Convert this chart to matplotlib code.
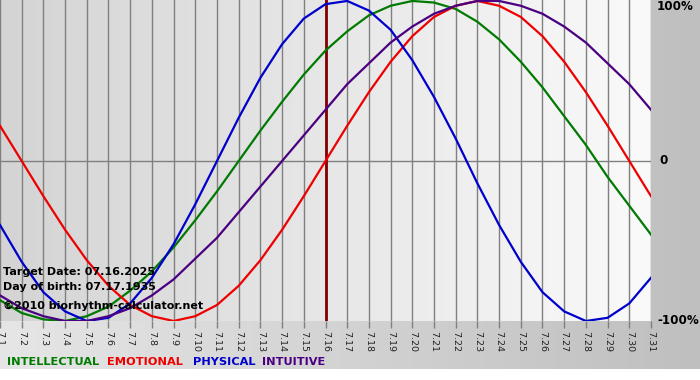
import numpy as np
import matplotlib
matplotlib.use("Agg")
import matplotlib.pyplot as plt
from matplotlib.colors import LinearSegmentedColormap

days = list(range(1, 32))
day_labels = ["7.%d" % d for d in days]

physical = [-0.40, -0.63, -0.82, -0.94, -1.00, -0.98, -0.89, -0.73, -0.52, -0.27,
            0.00, 0.27, 0.52, 0.73, 0.89, 0.98, 1.00, 0.94, 0.82, 0.63,
            0.40, 0.14, -0.14, -0.40, -0.63, -0.82, -0.94, -1.00, -0.98, -0.89, -0.73]
emotional = [0.22, 0.00, -0.22, -0.43, -0.62, -0.78, -0.90, -0.97, -1.00, -0.97,
             -0.90, -0.78, -0.62, -0.43, -0.22, 0.00, 0.22, 0.43, 0.62, 0.78,
             0.90, 0.97, 1.00, 0.97, 0.90, 0.78, 0.62, 0.43, 0.22, 0.00, -0.22]
intellectual = [-0.87, -0.95, -0.99, -1.00, -0.97, -0.91, -0.81, -0.69, -0.54, -0.37,
                -0.19, 0.00, 0.19, 0.37, 0.54, 0.69, 0.81, 0.91, 0.97, 1.00,
                0.99, 0.95, 0.87, 0.76, 0.62, 0.46, 0.28, 0.10, -0.10, -0.28, -0.46]
intuitive = [-0.84, -0.92, -0.97, -1.00, -1.00, -0.97, -0.92, -0.84, -0.74, -0.61,
             -0.48, -0.32, -0.16, 0.00, 0.16, 0.32, 0.48, 0.61, 0.74, 0.84,
             0.92, 0.97, 1.00, 1.00, 0.97, 0.92, 0.84, 0.74, 0.61, 0.48, 0.32]

target_day = 16
info_lines = ["Target Date: 07.16.2025", "Day of birth: 07.17.1935", "\u00a92010 biorhythm-calculator.net"]
legend_names = ["INTELLECTUAL", "EMOTIONAL", "PHYSICAL", "INTUITIVE"]
colors = {"INTELLECTUAL": "#007a00", "EMOTIONAL": "#ee0000", "PHYSICAL": "#0000cc", "INTUITIVE": "#4b0082"}

W, H = 700, 380
fig = plt.figure(figsize=(7, 3.8), dpi=100, facecolor="white")

# outer gradient background (light left -> darker right)
bg = fig.add_axes([0, 1 - 369 / H, 1, 369 / H])
grad = np.linspace(0, 1, 256).reshape(1, -1)
cm_out = LinearSegmentedColormap.from_list("o", ["#e6e6e6", "#bfbfbf"])
bg.imshow(grad, aspect="auto", cmap=cm_out, extent=[0, 1, 0, 1])
bg.set_axis_off()

px_l, px_r, px_t, px_b = 0, 651, 0, 321
ax = fig.add_axes([px_l / W, 1 - px_b / H, (px_r - px_l) / W, (px_b - px_t) / H])
cm_in = LinearSegmentedColormap.from_list("i", ["#d4d4d4", "#fafafa"])
ax.imshow(grad, aspect="auto", cmap=cm_in, extent=[1, 31, -1, 1.006], zorder=0)
ax.set_xlim(1, 31)
ax.set_ylim(-1, 1.006)

for d in days:
    ax.axvline(d, color="#808080", lw=1.0, zorder=1)
ax.axhline(0, color="#808080", lw=1.0, zorder=1)
ax.axvline(target_day, color="#800000", lw=2.0, zorder=2)

ax.plot(days, intellectual, color=colors["INTELLECTUAL"], lw=1.6, zorder=3)
ax.plot(days, emotional, color=colors["EMOTIONAL"], lw=1.6, zorder=3)
ax.plot(days, physical, color=colors["PHYSICAL"], lw=1.6, zorder=3)
ax.plot(days, intuitive, color=colors["INTUITIVE"], lw=1.6, zorder=3)

for s in ax.spines.values():
    s.set_visible(False)
ax.set_yticks([])
ax.set_xticks(days)
ax.set_xticklabels(day_labels, rotation=-90, fontsize=6.8, color="#222222", family="DejaVu Sans")
ax.tick_params(axis="x", length=5, width=1, color="#808080", pad=2)

def ftext(x, y, s, **kw):
    fig.text(x / W, 1 - y / H, s, **kw)

for i, line in enumerate(info_lines):
    ftext(3, [272, 287, 306][i], line, fontsize=8.0, fontweight="bold", color="black", va="center", ha="left", zorder=10)

for name, x in zip(legend_names, [7, 107, 193, 262]):
    ftext(x, 362, name, fontsize=8.2, fontweight="bold", color=colors[name], va="center", ha="left")

ftext(657, 7, "100%", fontsize=8.6, fontweight="bold", color="black", va="center", ha="left")
ftext(659, 161, "0", fontsize=8.6, fontweight="bold", color="black", va="center", ha="left")
ftext(657, 321, "-100%", fontsize=8.6, fontweight="bold", color="black", va="center", ha="left")

fig.savefig("out.png", dpi=100, facecolor="white")
